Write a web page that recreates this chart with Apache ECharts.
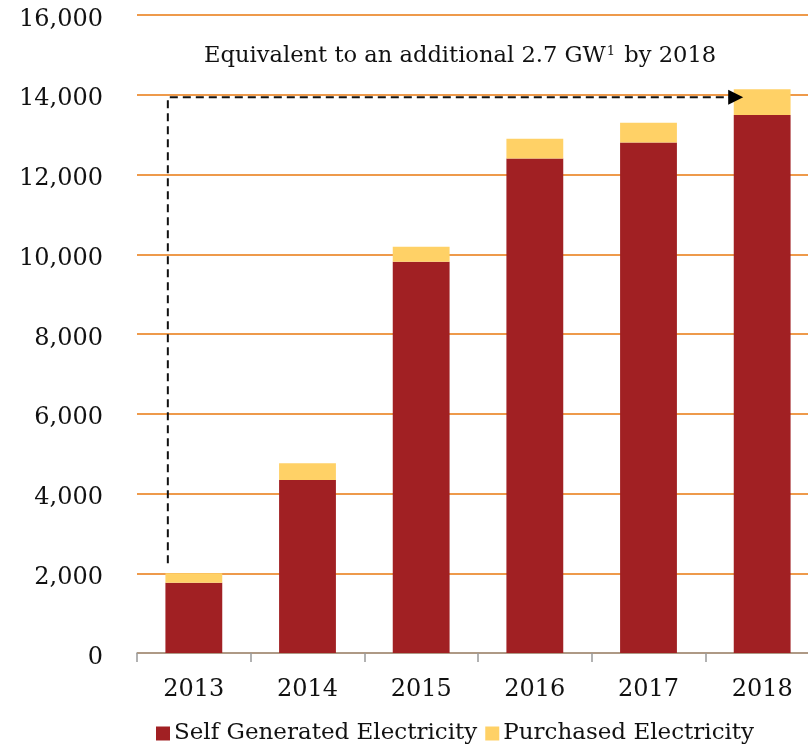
<!DOCTYPE html>
<html>
<head>
<meta charset="utf-8">
<script src="https://cdn.jsdelivr.net/npm/echarts@6/dist/echarts.min.js"></script>
<style>
  html, body { margin: 0; padding: 0; background: #fff; }
  #chart { width: 808px; height: 747px; }
</style>
</head>
<body>
<div id="chart"></div>
<script>
// Annual electricity, split by source
const years = ['2013', '2014', '2015', '2016', '2017', '2018'];
const selfGenerated = [1760, 4340, 9810, 12400, 12800, 13490];
const purchased = [240, 420, 375, 495, 495, 645];
const yTicks = [0, 2000, 4000, 6000, 8000, 10000, 12000, 14000, 16000];

// Dashed guide: rises from the first year, runs across to the last
const guideStartValue = 2250;
const guideLevel = 14000;

const FONT = 'DejaVu Serif';
const RED = '#A12023';
const YELLOW = '#FFD166';
const ORANGE = '#E8780F';

const chart = echarts.init(document.getElementById('chart'), null, { renderer: 'canvas' });

chart.setOption({
  animation: false,
  backgroundColor: '#fff',
  title: {
    left: 199,
    top: 40,
    text: '{t|Equivalent to an additional 2.7 GW}{s|1}{t| by 2018}',
    textStyle: {
      fontWeight: 'normal',
      rich: {
        t: { fontFamily: FONT, fontSize: 22.6, fontWeight: 'normal', color: '#111', verticalAlign: 'bottom' },
        s: { fontFamily: FONT, fontSize: 13, fontWeight: 'normal', color: '#111', verticalAlign: 'top', padding: [0, 2, 10, 1] }
      }
    }
  },
  // plot area runs slightly past the right edge of the canvas
  grid: { left: 137, width: 682, top: 15, bottom: 94, containLabel: false, outerBoundsMode: 'none' },
  legend: {
    left: 151,
    bottom: -3,
    itemWidth: 14,
    itemHeight: 14,
    itemGap: 8,
    icon: 'rect',
    textStyle: { fontFamily: FONT, fontSize: 23, color: '#111', padding: [0, 0, 0, -1] },
    data: ['Self Generated Electricity', 'Purchased Electricity']
  },
  xAxis: {
    type: 'category',
    data: years,
    boundaryGap: true,
    axisLine: { lineStyle: { color: '#999', width: 1.5 } },
    axisTick: { show: true, length: 9, lineStyle: { color: '#999', width: 1.5 } },
    axisLabel: { fontFamily: FONT, fontSize: 24, color: '#111', margin: 25 }
  },
  yAxis: {
    type: 'value',
    min: yTicks[0],
    max: yTicks[yTicks.length - 1],
    interval: yTicks[1] - yTicks[0],
    axisLine: { show: false },
    axisTick: { show: false },
    splitLine: { lineStyle: { color: ORANGE, width: 1.5 } },
    axisLabel: {
      color: '#111',
      margin: 34,
      verticalAlign: 'middle',
      formatter: v => '{v|' + v.toLocaleString('en-US') + '}',
      rich: {
        v: { fontFamily: FONT, fontSize: 24, color: '#111', padding: [9, 0, 0, 0] }
      }
    }
  },
  series: [
    {
      name: 'Self Generated Electricity',
      type: 'bar',
      stack: 'total',
      barWidth: '50%',
      itemStyle: { color: RED },
      data: selfGenerated
    },
    {
      name: 'Purchased Electricity',
      type: 'bar',
      stack: 'total',
      barWidth: '50%',
      itemStyle: { color: YELLOW },
      data: purchased
    }
  ]
});

// Dashed arrow placed through the axes' own scales
function drawGuide() {
  const first = chart.convertToPixel({ gridIndex: 0 }, [years[0], guideLevel]);
  const last = chart.convertToPixel({ gridIndex: 0 }, [years[years.length - 1], guideLevel]);
  const bottom = chart.convertToPixel({ gridIndex: 0 }, [years[0], guideStartValue]);
  const x0 = first[0] - 26;
  const y0 = first[1] + 2.5;
  const tipX = last[0] - 19;
  const dash = { stroke: '#111', lineWidth: 2, lineDash: [8, 5] };
  chart.setOption({
    graphic: [
      { type: 'polyline', shape: { points: [[x0, bottom[1]], [x0, y0], [tipX - 14, y0]] }, style: dash, z: 10 },
      { type: 'polygon', shape: { points: [[tipX - 15, y0 - 7.5], [tipX, y0], [tipX - 15, y0 + 7.5]] }, style: { fill: '#000' }, z: 11 }
    ]
  });
}
drawGuide();
</script>
</body>
</html>
